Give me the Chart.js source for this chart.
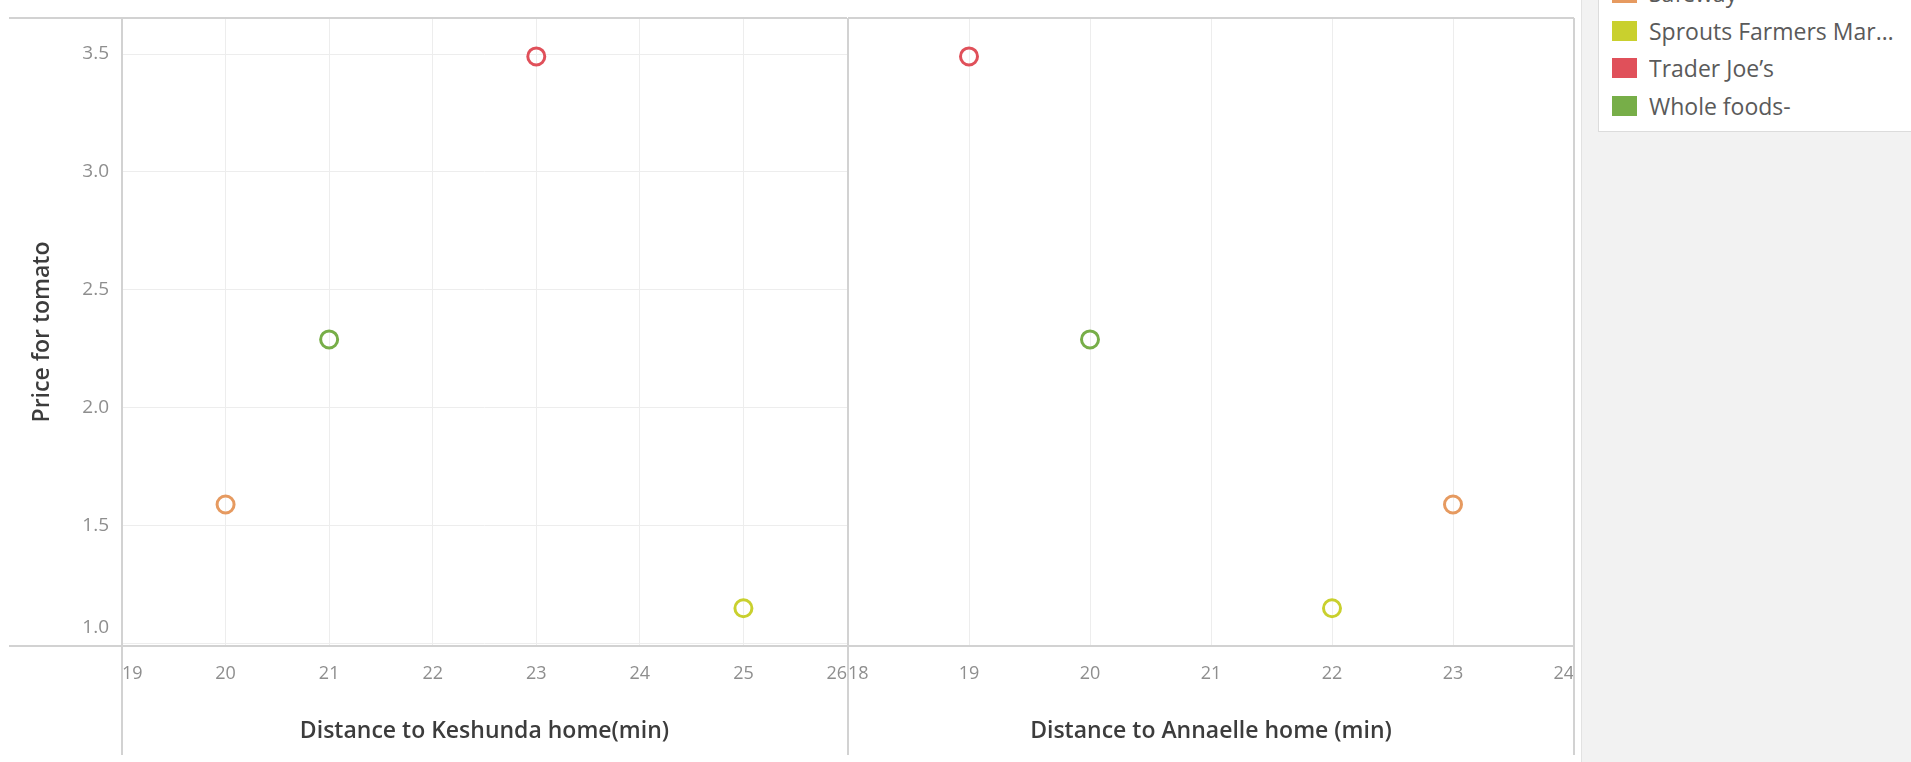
<!DOCTYPE html>
<html>
<head>
<meta charset="utf-8">
<title>Price for tomato</title>
<script src="https://cdn.jsdelivr.net/npm/chart.js@4.4.1/dist/chart.umd.min.js"></script>
<style>
  html, body { margin: 0; padding: 0; }
  body {
    width: 1911px; height: 762px; overflow: hidden; position: relative;
    background: #fff; font-family: "Open Sans", sans-serif;
  }
  .panel { position: absolute; top: 0; height: 762px; }
  #left-panel { left: 0; width: 880px; }
  #right-panel { left: 826px; width: 760px; }
  #side {
    position: absolute; left: 1581px; top: 0; width: 330px; height: 762px;
    background: #f2f2f2; border-left: 1px solid #e2e2e2;
  }
  #legend {
    position: absolute; left: 1598px; top: -48px; width: 330px; height: 180px;
    background: #fff; border: 1px solid #dcdcdc; box-sizing: border-box;
  }
  .item { position: absolute; left: 13px; height: 30px; display: flex; align-items: center; }
  .swatch { width: 25px; height: 20px; margin-right: 12px; flex: none; }
  .name {
    font-size: 23px; color: #5a5a5a; white-space: nowrap; overflow: hidden;
    text-overflow: ellipsis; max-width: 254px;
  }
</style>
</head>
<body>
<div id="side"></div>
<div id="legend"></div>
<div class="panel" id="left-panel"><canvas id="keshunda"></canvas></div>
<div class="panel" id="right-panel"><canvas id="annaelle"></canvas></div>

<script>
// data ======================================
const stores = ["Safeway", "Sprouts Farmers Market", "Trader Joe’s", "Whole foods-"];
const storeColors = ["#e69a60", "#c9d02e", "#e0505a", "#77ae48"];
const tomatoPrice = [1.59, 1.15, 3.49, 2.29];
const keshundaMinutes = [20, 25, 23, 21];
const annaelleMinutes = [23, 22, 19, 20];

const priceTicks = [1.0, 1.5, 2.0, 2.5, 3.0, 3.5];
const keshundaTicks = [19, 20, 21, 22, 23, 24, 25, 26];
const annaelleTicks = [18, 19, 20, 21, 22, 23, 24];

const priceMin = 0.99;
const priceMax = 3.653;

// legend (html, top entry scrolled out of view) ===
const legendBox = document.getElementById("legend");
stores.forEach((name, i) => {
  const row = document.createElement("div");
  row.className = "item";
  row.style.top = (25 + i * 37.5) + "px";
  row.innerHTML = `<span class="swatch" style="background:${storeColors[i]}"></span><span class="name">${name}</span>`;
  legendBox.appendChild(row);
});

// frame lines, tableau style =================
const framePlugin = {
  id: "frame",
  beforeDatasetsDraw(chart, args, opts) {
    const { ctx, chartArea: a } = chart;
    const start = opts.lineStart ?? a.left;
    ctx.save();
    ctx.strokeStyle = "#d2d2d2";
    ctx.lineWidth = 2;
    ctx.beginPath();
    ctx.moveTo(start, a.top); ctx.lineTo(a.right, a.top);
    ctx.moveTo(start, a.bottom); ctx.lineTo(a.right, a.bottom);
    ctx.moveTo(a.left, a.top); ctx.lineTo(a.left, chart.height - 7);
    if (opts.rightEdge) {
      ctx.moveTo(a.right, a.top); ctx.lineTo(a.right, chart.height - 7);
    }
    ctx.stroke();
    ctx.restore();
  }
};

const titleFont = { family: "Open Sans", size: 23, weight: "600" };

function makePanel(canvasId, minutes, xTicks, xTitle, showY, padding, frame) {
  const datasets = stores.map((name, i) => ({
    label: name,
    data: [{ x: minutes[i], y: tomatoPrice[i] }],
    borderColor: storeColors[i],
    backgroundColor: "rgba(255,255,255,0)",
    pointRadius: 8.5,
    pointHoverRadius: 8.5,
    borderWidth: 3,
  }));

  return new Chart(document.getElementById(canvasId), {
    type: "scatter",
    data: { datasets },
    plugins: [framePlugin],
    options: {
      responsive: true,
      maintainAspectRatio: false,
      animation: false,
      layout: { padding },
      plugins: {
        legend: { display: false },
        tooltip: { enabled: false },
        frame,
      },
      scales: {
        x: {
          type: "linear",
          min: xTicks[0],
          max: xTicks[xTicks.length - 1],
          afterBuildTicks: (scale) => { scale.ticks = xTicks.map((v) => ({ value: v })); },
          afterFit: (scale) => {
            scale.height = 116;
            scale.paddingLeft = 0;
            scale.paddingRight = 0;
          },
          grid: { color: "#ededed", lineWidth: 1, drawTicks: false },
          border: { display: false },
          ticks: {
            align: "inner",
            padding: 17,
            color: "#8e8e8e",
            font: { family: "Open Sans", size: 18 },
          },
          title: {
            display: true,
            text: xTitle,
            color: "#3c3c3c",
            font: titleFont,
            padding: { top: 0, bottom: 17 },
          },
        },
        y: {
          display: showY,
          min: priceMin,
          max: priceMax,
          afterBuildTicks: (scale) => { scale.ticks = priceTicks.map((v) => ({ value: v })); },
          afterFit: (scale) => {
            if (showY) scale.width = 122;
            scale.paddingTop = 0;
            scale.paddingBottom = 0;
          },
          grid: { color: "#ededed", lineWidth: 1, drawTicks: false },
          border: { display: false },
          ticks: {
            padding: 13,
            color: "#8e8e8e",
            // bottom label sits inside the pane, like the original
            callback: (v) => (v === priceTicks[0] ? [v.toFixed(1), ""] : v.toFixed(1)),
            font: (c) => ({
              family: "Open Sans",
              size: 19,
              lineHeight: c.tick && c.tick.value === priceTicks[0] ? 1.7 : 1.2,
            }),
          },
          title: {
            display: true,
            text: "Price for tomato",
            color: "#3c3c3c",
            font: titleFont,
            padding: { top: 29, bottom: 0 },
          },
        },
      },
    },
  });
}

makePanel("keshunda", keshundaMinutes, keshundaTicks, "Distance to Keshunda home(min)", true,
  { top: 18, right: 33, bottom: 0, left: 0 }, { lineStart: 9 });

makePanel("annaelle", annaelleMinutes, annaelleTicks, "Distance to Annaelle home (min)", false,
  { top: 18, right: 12, bottom: 0, left: 22 }, { rightEdge: true });
</script>
</body>
</html>
